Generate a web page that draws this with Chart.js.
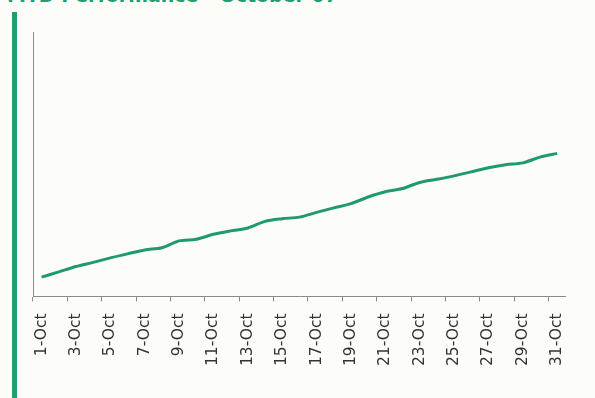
<!DOCTYPE html>
<html lang="en">
    <head>
        <meta charset="utf-8" />
        <title>MTD Performance</title>
        <script src="https://cdn.jsdelivr.net/npm/chart.js@4.4.1/dist/chart.umd.min.js"></script>
        <style>
            html,
            body {
                margin: 0;
                padding: 0;
                background: #fcfcf8;
                width: 595px;
                height: 398px;
                overflow: hidden;
                font-family: "DejaVu Sans", Verdana, sans-serif;
            }
            .panel-title {
                position: absolute;
                left: 7px;
                top: -16px;
                font-size: 19px;
                font-weight: bold;
                color: #1f9e6e;
                white-space: nowrap;
            }
            .panel-bar {
                position: absolute;
                left: 12px;
                top: 12px;
                width: 5px;
                bottom: 0;
                background: #1f9e6e;
            }
            .chart-box {
                position: absolute;
                left: 25px;
                top: 24px;
                width: 563px;
                height: 354px;
            }
        </style>
    </head>
    <body>
        <div class="panel-title">MTD Performance - October 07</div>
        <div class="panel-bar"></div>
        <div class="chart-box">
            <canvas id="mtdChart"></canvas>
        </div>

        <script>
            // Daily labels for October
            const days = [];
            for (let d = 1; d <= 31; d++) days.push(d + "-Oct");

            // Month-to-date cumulative performance (% of target)
            const mtdValues = [
                7.3, 9.3, 11.3, 12.9, 14.6, 16.1, 17.6, 18.4, 21.0, 21.6,
                23.5, 24.8, 25.9, 28.4, 29.4, 30.0, 31.8, 33.5, 35.1, 37.6,
                39.6, 40.8, 43.1, 44.3, 45.6, 47.1, 48.7, 49.8, 50.5, 52.7,
                54.1,
            ];

            const axisGrey = "#8a8a8a";

            new Chart(document.getElementById("mtdChart"), {
                type: "line",
                data: {
                    labels: days,
                    datasets: [
                        {
                            label: "MTD",
                            data: mtdValues,
                            borderColor: "#1e9a6c",
                            borderWidth: 3,
                            pointRadius: 0,
                            tension: 0.3,
                            fill: false,
                        },
                    ],
                },
                options: {
                    responsive: true,
                    maintainAspectRatio: false,
                    animation: false,
                    layout: { padding: { top: 8, right: 15, left: 0 } },
                    plugins: {
                        legend: { display: false },
                        tooltip: { enabled: false },
                    },
                    scales: {
                        x: {
                            offset: true,
                            border: { display: true, color: axisGrey, width: 1 },
                            grid: {
                                offset: true,
                                drawOnChartArea: false,
                                drawTicks: true,
                                tickLength: 5,
                                color: (ctx) =>
                                    ctx.index % 2 === 0 ? axisGrey : "transparent",
                            },
                            ticks: {
                                autoSkip: false,
                                maxRotation: 90,
                                minRotation: 90,
                                padding: 12,
                                color: "#333",
                                font: { family: "DejaVu Sans", size: 15.5 },
                                callback: (v, i) => (i % 2 === 0 ? days[i] : ""),
                            },
                        },
                        y: {
                            min: 0,
                            max: 100,
                            border: { display: true, color: axisGrey, width: 1 },
                            grid: { display: false },
                            ticks: { display: false },
                        },
                    },
                },
            });
        </script>
    </body>
</html>
